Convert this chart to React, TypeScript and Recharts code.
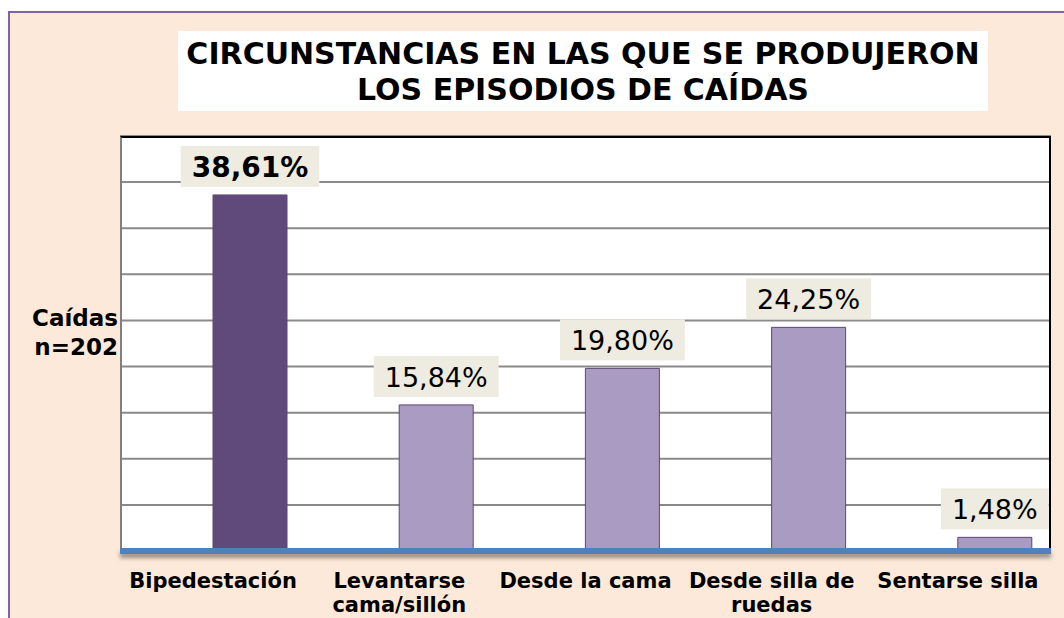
import React from "react";
import { BarChart, Bar, XAxis, YAxis, CartesianGrid, Cell, LabelList } from "recharts";

const categories = [
  "Bipedestación",
  "Levantarse\ncama/sillón",
  "Desde la cama",
  "Desde silla de\nruedas",
  "Sentarse silla",
];
const percentages = [38.61, 15.84, 19.8, 24.25, 1.48];
const yTicks = [0, 5, 10, 15, 20, 25, 30, 35, 40, 45];
const titleLines = ["CIRCUNSTANCIAS EN LAS QUE SE PRODUJERON", "LOS EPISODIOS DE CAÍDAS"];
const axisTitleLines = ["Caídas", "n=202"];
const highlightIndex = 0;

const data = categories.map((c, i) => ({ name: c, value: percentages[i], spacer: 0 }));

const FONT = "'DejaVu Sans', Verdana, sans-serif";

const fmt = (v: number) => v.toFixed(2).replace(".", ",") + "%";

const ValueLabel = (props: any) => {
  const { x, y, width, value, index } = props;
  const bold = index === highlightIndex;
  const text = fmt(Number(value));
  const fs = bold ? 28 : 27;
  let w = 0;
  for (const ch of text) {
    if (/[0-9]/.test(ch)) w += bold ? 0.696 : 0.636;
    else if (ch === ",") w += bold ? 0.38 : 0.318;
    else if (ch === "%") w += bold ? 1.002 : 0.95;
  }
  const tw = w * fs;
  const bw = tw + 22;
  const bh = 41;
  const cx = x + width / 2;
  const by = y - 8 - bh;
  return (
    <g>
      <rect x={cx - bw / 2} y={by} width={bw} height={bh} fill="#EEECE1" />
      <text
        x={cx}
        y={by + bh / 2 + 1}
        textAnchor="middle"
        dominantBaseline="central"
        fontFamily={FONT}
        fontSize={fs}
        fontWeight={bold ? "bold" : "normal"}
        fill="#000"
      >
        {text}
      </text>
    </g>
  );
};

const CatTick = (props: any) => {
  const { x, y, payload } = props;
  const lines = String(payload.value).split("\n");
  return (
    <g>
      {lines.map((l, i) => (
        <text
          key={i}
          x={x}
          y={y + 29 + i * 24}
          textAnchor="middle"
          fontFamily={FONT}
          fontSize={21}
          fontWeight="bold"
          fill="#000"
        >
          {l}
        </text>
      ))}
    </g>
  );
};

export default function App() {
  return (
    <div
      style={{
        position: "absolute",
        left: 0,
        top: 0,
        width: 1064,
        height: 618,
        overflow: "hidden",
        background: "#fff",
      }}
    >
      <div
        style={{
          position: "absolute",
          left: 8,
          top: 11,
          width: 1080,
          height: 640,
          border: "2px solid #8064A2",
          background: "#FDE9D9",
        }}
      />
      <div
        style={{
          position: "absolute",
          left: 178,
          top: 31,
          width: 810,
          height: 80,
          background: "#fff",
          fontFamily: FONT,
          fontWeight: "bold",
          fontSize: 30,
          lineHeight: "36px",
          textAlign: "center",
          color: "#000",
          paddingTop: 5,
          boxSizing: "border-box",
          whiteSpace: "nowrap",
        }}
      >
        {titleLines.map((l, i) => (
          <div key={i}>{l}</div>
        ))}
      </div>
      <div
        style={{
          position: "absolute",
          left: 0,
          top: 304,
          width: 118,
          textAlign: "right",
          fontFamily: FONT,
          fontWeight: "bold",
          fontSize: 23,
          lineHeight: "29px",
          color: "#000",
        }}
      >
        {axisTitleLines.map((l, i) => (
          <div key={i}>{l}</div>
        ))}
      </div>
      <div
        style={{
          position: "absolute",
          left: 120,
          top: 136,
          width: 931,
          height: 415,
          background: "#fff",
        }}
      />
      <div style={{ position: "absolute", left: 0, top: 0 }}>
        <BarChart
          width={1064}
          height={618}
          data={data}
          margin={{ top: 136, left: 120, right: 13, bottom: 37 }}
          barGap={0}
          barSize={74}
        >
          <CartesianGrid vertical={false} stroke="#8A8A8A" strokeWidth={2} />
          <YAxis hide domain={[0, 45]} ticks={yTicks} />
          <XAxis
            dataKey="name"
            height={30}
            tickLine={false}
            interval={0}
            tick={<CatTick />}
            axisLine={{
              stroke: "#4F81BD",
              strokeWidth: 6,
              style: { filter: "drop-shadow(0px 4px 2px rgba(0,0,0,0.4))" },
            }}
          />
          <Bar dataKey="spacer" fill="none" isAnimationActive={false} />
          <Bar dataKey="value" isAnimationActive={false} stroke="#5C4776" strokeWidth={1}>
            {data.map((d, i) => (
              <Cell key={i} fill={i === highlightIndex ? "#604A7B" : "#A99BC1"} />
            ))}
            <LabelList dataKey="value" content={<ValueLabel />} />
          </Bar>
        </BarChart>
      </div>
      <div
        style={{
          position: "absolute",
          left: 120,
          top: 136,
          width: 931,
          height: 412,
          boxSizing: "border-box",
          borderTop: "2px solid #000",
          borderRight: "2px solid #000",
          borderLeft: "2px solid #808080",
          pointerEvents: "none",
        }}
      />
    </div>
  );
}
